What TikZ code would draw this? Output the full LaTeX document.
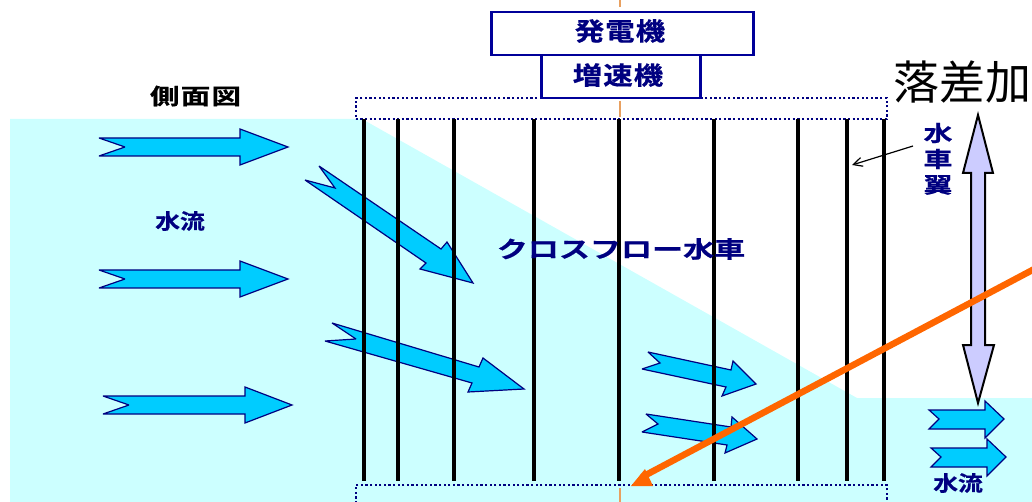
\documentclass[tikz,border=0pt]{standalone}
\usepackage{fontspec}
\usetikzlibrary{arrows.meta}
\newfontfamily\jpb[FakeStretch=1.18,FakeBold=0.6]{Noto Sans CJK JP Bold}
\newfontfamily\jpw[FakeStretch=1.35,FakeBold=0.6]{Noto Sans CJK JP Bold}
\newfontfamily\jpr{Noto Sans CJK JP}
\definecolor{water}{HTML}{CCFFFF}
\definecolor{flow}{HTML}{00CCFF}
\definecolor{navy}{HTML}{000080}
\definecolor{boxblue}{HTML}{000099}
\definecolor{lilac}{HTML}{CCCCFF}
\definecolor{orangeln}{HTML}{FF6600}
\definecolor{axis}{HTML}{E8A060}
\tikzset{
  flowarrow/.style={fill=flow,draw=navy,line width=1.2pt,line join=miter,miter limit=3},
  blade/.style={line width=3.8pt,black},
  dotbox/.style={draw=navy,line width=2.4pt,dash pattern=on 2.2pt off 2.4pt},
  machine/.style={draw=boxblue,line width=2.4pt,fill=white},
  navytext/.style={text=navy,font=\jpb,inner sep=0pt},
  axisline/.style={axis,line width=2pt},
}
\begin{document}
\begin{tikzpicture}[x=1pt,y=-1pt]
\useasboundingbox (0,0) rectangle (1032,502);
\clip (0,0) rectangle (1032,502);
\fill[water] (10,119) -- (362,119) -- (857,398) -- (1032,398) -- (1032,502) -- (10,502) -- cycle;
% centre axis
\coordinate (ax1) at (620,0);\coordinate (ax2) at (620,7);
\draw[axisline] (ax1) -- (ax2);
\coordinate (ax3) at (620,101);\coordinate (ax4) at (620,117);
\draw[axisline] (ax3) -- (ax4);
\coordinate (ax5) at (620,488);\coordinate (ax6) at (620,502);
\draw[axisline] (ax5) -- (ax6);
% flow arrows
\draw[flowarrow] (99,138)--(240,138)--(240,129)--(288,147)--(240,165)--(240,156)--(99,156)--(125,147)--cycle;
\draw[flowarrow] (99,270)--(240,270)--(240,261)--(288,279)--(240,297)--(240,288)--(99,288)--(125,279)--cycle;
\draw[flowarrow] (103,396)--(245,396)--(245,387)--(292,405)--(245,423)--(245,414)--(103,414)--(129,405)--cycle;
\draw[flowarrow] (319,166)--(441,249)--(447,242)--(473,283)--(420,269)--(426,263)--(305,180)--(335,188)--cycle;
\draw[flowarrow] (332,323)--(479,367)--(483,358)--(524,389)--(468,392)--(472,383)--(325,341)--(356,339)--cycle;
\draw[flowarrow] (648,352)--(731,370)--(733,361)--(756,384)--(722,396)--(726,387)--(642,369)--(660,363)--cycle;
\draw[flowarrow] (646,414)--(731,427)--(732,417)--(757,439)--(725,453)--(727,445)--(642,432)--(658,424)--cycle;
\draw[flowarrow] (929,410)--(985,410)--(985,401)--(1004,419)--(985,438)--(985,429)--(929,429)--(939,419)--cycle;
\draw[flowarrow] (931,448)--(987,448)--(987,439)--(1006,457)--(987,476)--(987,467)--(931,467)--(941,457)--cycle;
% boxes
\node[dotbox,minimum width=531pt,minimum height=21pt,inner sep=0pt,anchor=north west] (topbox) at (354.5,97) {};
\node[dotbox,minimum width=531pt,minimum height=40pt,inner sep=0pt,anchor=north west] (botbox) at (354.5,484) {};
\node[machine,minimum width=262pt,minimum height=43pt,inner sep=0pt,anchor=north west] (gen) at (490.3,11) {};
\node[machine,minimum width=159pt,minimum height=43pt,inner sep=0pt,anchor=north west] (gear) at (540.3,54) {};
\node[navytext,font=\jpb\fontsize{25}{25}\selectfont] (gentext) at (620,31) {発\hspace{1pt}電\hspace{1pt}機};
\node[navytext,font=\jpb\fontsize{25}{25}\selectfont] (geartext) at (618,75) {増\hspace{1pt}速\hspace{1pt}機};
% blades
\foreach \x in {364,398,454,534,619,714,798,847,884}{
  \coordinate (bt\x) at (\x,119);\coordinate (bb\x) at (\x,481);
  \draw[blade] (bt\x) -- (bb\x);
}
% labels
\node[text=black,font=\jpw\fontsize{22}{22}\selectfont,inner sep=0pt] (side) at (195.5,96) {側\hspace{1pt}面\hspace{1pt}図};
\node[navytext,font=\jpb\fontsize{21}{21}\selectfont] (w1) at (180,221) {水流};
\node[navytext,font=\jpb\fontsize{21}{21}\selectfont] (w2) at (958,483) {水流};
\node[navytext,font=\jpw\fontsize{23}{23}\selectfont] (cf) at (621,249) {クロスフロー水車};
\node[navytext,font=\jpw\fontsize{21.5}{22}\selectfont] (v1) at (938,133) {水};
\node[navytext,font=\jpw\fontsize{21.5}{22}\selectfont] (v2) at (938,159) {車};
\node[navytext,font=\jpw\fontsize{21.5}{22}\selectfont] (v3) at (938,185) {翼};
\node[font=\jpr\fontsize{46}{46}\selectfont,inner sep=0pt,anchor=west] (drop) at (893,82) {落差加};
% thin arrow
\coordinate (t1) at (852,165);
\coordinate (t0) at (913,146);
\draw[line width=1.2pt,-{Straight Barb[length=9pt,width=9pt]}] (t0) -- (t1);
% double arrow
\draw[fill=lilac,draw=black,line width=2pt,line join=miter] (978,115)--(993,173)--(985,173)--(985,345)--(994,345)--(978,403)--(963,345)--(971,345)--(971,173)--(963,173)--cycle;
% orange arrow
\coordinate (o0) at (1040,266);
\coordinate (o1) at (642,477);
\draw[orangeln,line width=6.5pt] (o0) -- (o1);
\fill[orangeln] (631,486)--(645,469)--(653,486)--cycle;
\end{tikzpicture}
\end{document}
